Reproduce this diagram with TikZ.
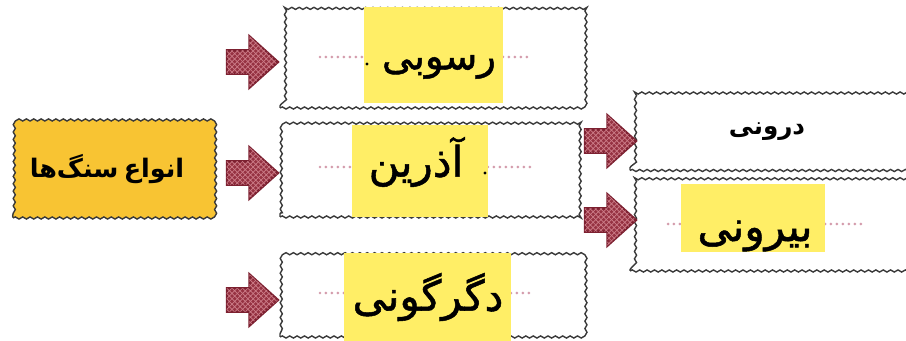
\documentclass[tikz,border=0pt]{standalone}
\usepackage{fontspec}
\newfontfamily\farsi[Script=Arabic]{DejaVu Sans}
\newfontfamily\farsiheavy[Script=Arabic,FakeBold=1.2]{DejaVu Sans}
\TeXXeTstate=1
\usepackage{tikz}
\usetikzlibrary{shapes.arrows,patterns,decorations.pathmorphing}
\definecolor{rockorange}{HTML}{F8C433}
\definecolor{hiyellow}{HTML}{FFEE66}
\definecolor{arrowred}{HTML}{963242}
\definecolor{arrowdark}{HTML}{7C2030}
\definecolor{arrowpink}{HTML}{CC7C88}
\definecolor{dotpink}{HTML}{D49CAC}
\definecolor{wavegray}{HTML}{3A3A3A}

\tikzset{
    wavybox/.style = {rectangle, draw=wavegray, line width=0.8pt, inner sep=0pt,
        decorate, decoration={snake, amplitude=0.6pt, segment length=4.2pt}},
    blockarrow/.style = {single arrow, draw=arrowdark, line width=1.3pt, fill=arrowred,
        postaction={pattern=crosshatch, pattern color=arrowpink},
        single arrow head extend=0.28cm, single arrow tip angle=84,
        minimum height=1.02cm, inner sep=0.21cm},
    highlight/.style = {fill=hiyellow, inner sep=0pt},
    answer/.style = {inner sep=0pt, font=\farsiheavy\fontsize{24}{28}\selectfont},
    blankline/.style = {dotpink, line width=1.7pt, line cap=round, dash pattern=on 0pt off 3.4pt}
}

\begin{document}
\begin{tikzpicture}[x=0.02cm, y=-0.02cm]
    \clip (0,0) rectangle (906,341);

    % Main box
    \node[wavybox, fill=rockorange, minimum width=4cm, minimum height=1.92cm] (kinds) at (113,170) {};
    \node[font=\farsi\bfseries\fontsize{14.5}{17}\selectfont] (kindstext) at (107,169)
        {\beginR انواع\hspace{3pt}سنگ‌ها\endR};

    % Middle column
    \node[wavybox, minimum width=6.04cm, minimum height=2cm] (sed) at (431,58) {};
    \node[wavybox, minimum width=6cm, minimum height=1.9cm] (ign) at (430,169.5) {};
    \node[wavybox, minimum width=6.04cm, minimum height=1.64cm] (met) at (431,296) {};

    % Right column, running past the edge
    \node[wavybox, minimum width=5.6cm, minimum height=1.56cm] (intr) at (770,131.5) {};
    \node[font=\farsi\bfseries\fontsize{14}{16}\selectfont] (intrtext) at (767,132)
        {\beginR درونی\endR};
    \node[wavybox, minimum width=5.6cm, minimum height=1.84cm] (extr) at (770,225) {};

    % Block arrows
    \node[blockarrow] (toSed) at (246,62) {};
    \node[blockarrow] (toIgn) at (246,173) {};
    \node[blockarrow] (toMet) at (246,300) {};
    \node[blockarrow] (toIntr) at (604,141) {};
    \node[blockarrow] (toExtr) at (604,220) {};

    % Dotted blanks
    \draw[blankline] (320,57) -- (364,57);
    \draw[blankline] (503,57) -- (530,57);
    \draw[blankline] (320,167) -- (352,167);
    \draw[blankline] (488,167) -- (530,167);
    \draw[blankline] (320,293) -- (344,293);
    \draw[blankline] (511,293) -- (530,293);
    \draw[blankline] (668,224) -- (681,224);
    \draw[blankline] (825,224) -- (863,224);

    % Yellow answers
    \node[highlight, minimum width=2.78cm, minimum height=1.92cm] (sedmark) at (433.5,55) {};
    \node[highlight, minimum width=2.72cm, minimum height=1.84cm] (ignmark) at (420,171) {};
    \node[highlight, minimum width=3.34cm, minimum height=1.8cm] (metmark) at (427.5,298) {};
    \node[highlight, minimum width=2.88cm, minimum height=1.36cm] (extrmark) at (753,218) {};
    \node[answer, font=\farsiheavy\fontsize{22}{26}\selectfont] (sedname) at (439,67) {\beginR رسوبی\endR};
    \node[answer] (ignname) at (416,162) {\beginR آذرین\endR};
    \node[answer] (metname) at (428,297) {\beginR دگرگونی\endR};
    \node[answer] (extrname) at (755,236) {\beginR بیرونی\endR};

    % Stray dots
    \fill (367,64) circle (1.6);
    \fill (485,173) circle (1.6);
\end{tikzpicture}
\end{document}
